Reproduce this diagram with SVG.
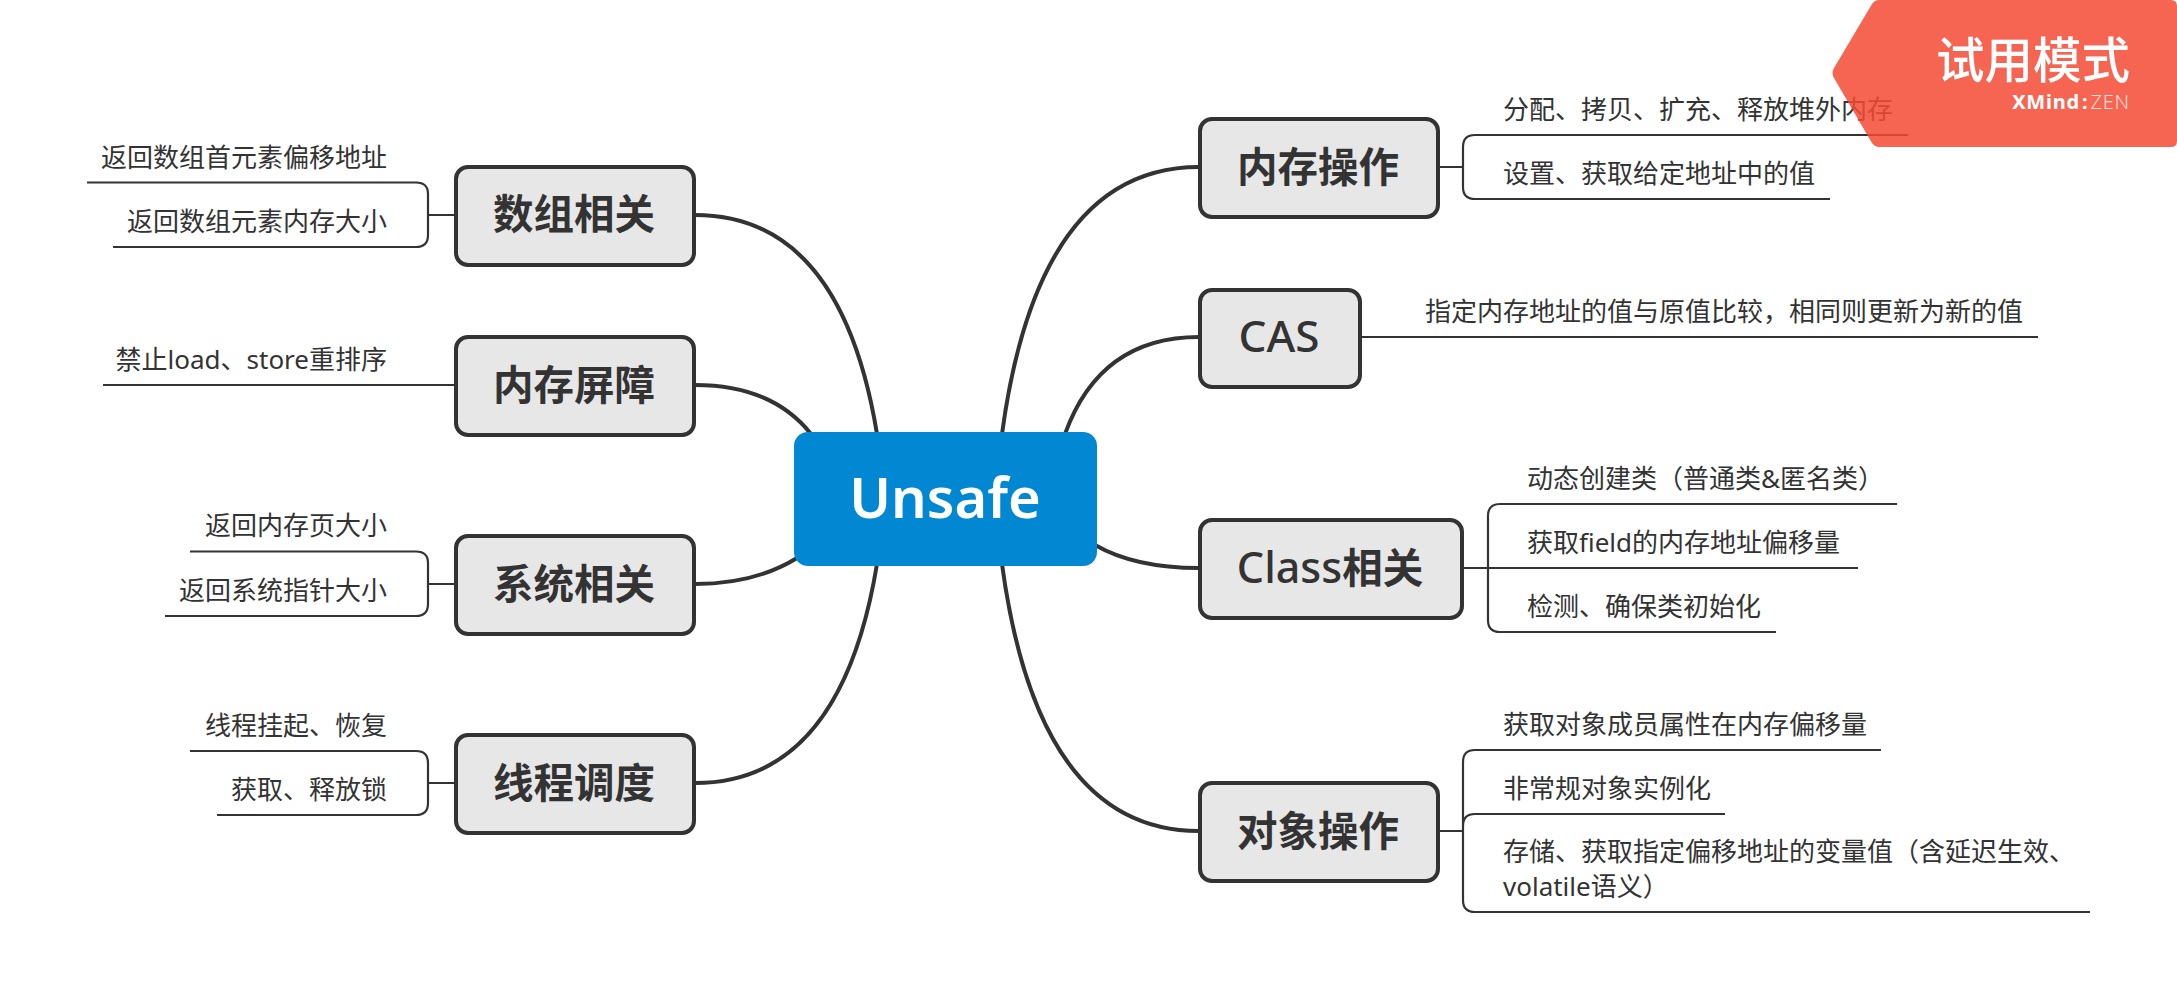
<svg xmlns="http://www.w3.org/2000/svg" width="2177" height="1001" viewBox="0 0 2177 1001">
<style>
text{font-family:"Noto Sans","Noto Sans CJK SC",sans-serif;fill:#333}
.s{font-size:26px}
.e{text-anchor:end}
.n rect{fill:#e7e7e7;stroke:#333;stroke-width:4}
.n text{text-anchor:middle;font-size:40.5px;font-weight:700}
.n text.l{font-weight:500}
.c{fill:none;stroke:#333;stroke-width:4;stroke-linecap:butt}
.b{fill:none;stroke:#333;stroke-width:2.2}
</style>
<rect width="2177" height="1001" fill="#fff"/>
<g id="connectors">
<path class="c" d="M1002 434Q1038 167 1199 167"/>
<path class="c" d="M1065 434Q1100 337 1199 337"/>
<path class="c" d="M1095 545Q1135 568 1199 568"/>
<path class="c" d="M1002 564Q1038 831 1199 831"/>
<path class="c" d="M877 434Q841 215 695 215"/>
<path class="c" d="M811 434Q772 385 695 385"/>
<path class="c" d="M797 558Q755 584 695 584"/>
<path class="c" d="M877 564Q841 783 695 783"/>
<path class="b" d="M1438 167H1463M1908 135H1475Q1463 135 1463 147V187Q1463 199 1475 199H1830"/>
<path class="b" d="M1360 337H2038"/>
<path class="b" d="M1463 568H1858M1897 504H1500Q1488 504 1488 516V620Q1488 632 1500 632H1776"/>
<path class="b" d="M1438 831H1463M1881 750H1475Q1463 750 1463 762V900Q1463 912 1475 912H2090M1725 814H1475Q1463 814 1463 826"/>
<path class="b" d="M454 215H428M87 182.500H416Q428 182.500 428 194V235Q428 247 416 247H113"/>
<path class="b" d="M454 385H103"/>
<path class="b" d="M454 584H428M190 551.500H416Q428 551.500 428 563V604Q428 616 416 616H165"/>
<path class="b" d="M454 783H428M190 751H416Q428 751 428 763V803Q428 815 416 815H217"/>
</g>
<g id="center"><rect x="794" y="432" width="303" height="134" rx="14" fill="#0288d3"/><text x="945" y="518" text-anchor="middle" font-size="56" font-weight="600" style="fill:#fff">Unsafe</text></g>
<g id="n-mem" class="n"><rect x="1200" y="119" width="238" height="98" rx="12"/><text x="1318" y="182">内存操作</text></g>
<g id="n-cas" class="n"><rect x="1200" y="290" width="160" height="97" rx="12"/><text class="l" x="1279" y="352" style="font-size:44px">CAS</text></g>
<g id="n-class" class="n"><rect x="1200" y="520" width="262" height="98" rx="12"/><text class="l" x="1330" y="583"><tspan font-size="43">Class</tspan><tspan font-weight="700">相关</tspan></text></g>
<g id="n-obj" class="n"><rect x="1200" y="783" width="238" height="98" rx="12"/><text x="1318" y="846">对象操作</text></g>
<g id="n-arr" class="n"><rect x="456" y="167" width="238" height="98" rx="12"/><text x="574" y="229">数组相关</text></g>
<g id="n-bar" class="n"><rect x="456" y="337" width="238" height="98" rx="12"/><text x="574" y="400">内存屏障</text></g>
<g id="n-sys" class="n"><rect x="456" y="536" width="238" height="98" rx="12"/><text x="574" y="599">系统相关</text></g>
<g id="n-thr" class="n"><rect x="456" y="735" width="238" height="98" rx="12"/><text x="574" y="798">线程调度</text></g>
<g id="t-mem1"><text class="s" x="1503" y="119">分配、拷贝、扩充、释放堆外内存</text></g>
<g id="t-mem2"><text class="s" x="1503" y="183">设置、获取给定地址中的值</text></g>
<g id="t-cas"><text class="s" x="1425" y="321">指定内存地址的值与原值比较，相同则更新为新的值</text></g>
<g id="t-c1"><text class="s" x="1527" y="488">动态创建类（普通类&amp;匿名类）</text></g>
<g id="t-c2"><text class="s" x="1527" y="552">获取field的内存地址偏移量</text></g>
<g id="t-c3"><text class="s" x="1527" y="616">检测、确保类初始化</text></g>
<g id="t-o1"><text class="s" x="1503" y="734">获取对象成员属性在内存偏移量</text></g>
<g id="t-o2"><text class="s" x="1503" y="798">非常规对象实例化</text></g>
<g id="t-o3"><text class="s" x="1503" y="861">存储、获取指定偏移地址的变量值（含延迟生效、</text><text class="s" x="1503" y="896">volatile语义）</text></g>
<g id="t-a1"><text class="s e" x="387" y="167">返回数组首元素偏移地址</text></g>
<g id="t-a2"><text class="s e" x="387" y="231">返回数组元素内存大小</text></g>
<g id="t-b1"><text class="s e" x="387" y="369">禁止load、store重排序</text></g>
<g id="t-s1"><text class="s e" x="387" y="535">返回内存页大小</text></g>
<g id="t-s2"><text class="s e" x="387" y="600">返回系统指针大小</text></g>
<g id="t-h1"><text class="s e" x="387" y="735">线程挂起、恢复</text></g>
<g id="t-h2"><text class="s e" x="387" y="799">获取、释放锁</text></g>
<g id="watermark">
<path d="M1875 0H2171Q2177 0 2177 6V141Q2177 147 2171 147H1879Q1875 147 1872 143L1834 78Q1831 73 1834 68L1872 4Q1875 0 1879 0Z" fill="#f34a34" fill-opacity=".85"/>
<text x="2130" y="78" text-anchor="end" font-size="48.500" font-weight="500" style="fill:#fff">试用模式</text>
<text x="2130" y="109" text-anchor="end" font-size="20" letter-spacing=".8" style="fill:#fff"><tspan font-weight="700">XMind</tspan><tspan font-weight="700" dx="2">:</tspan><tspan font-weight="300" fill-opacity=".8" dx="2">ZEN</tspan></text>
</g>
</svg>
